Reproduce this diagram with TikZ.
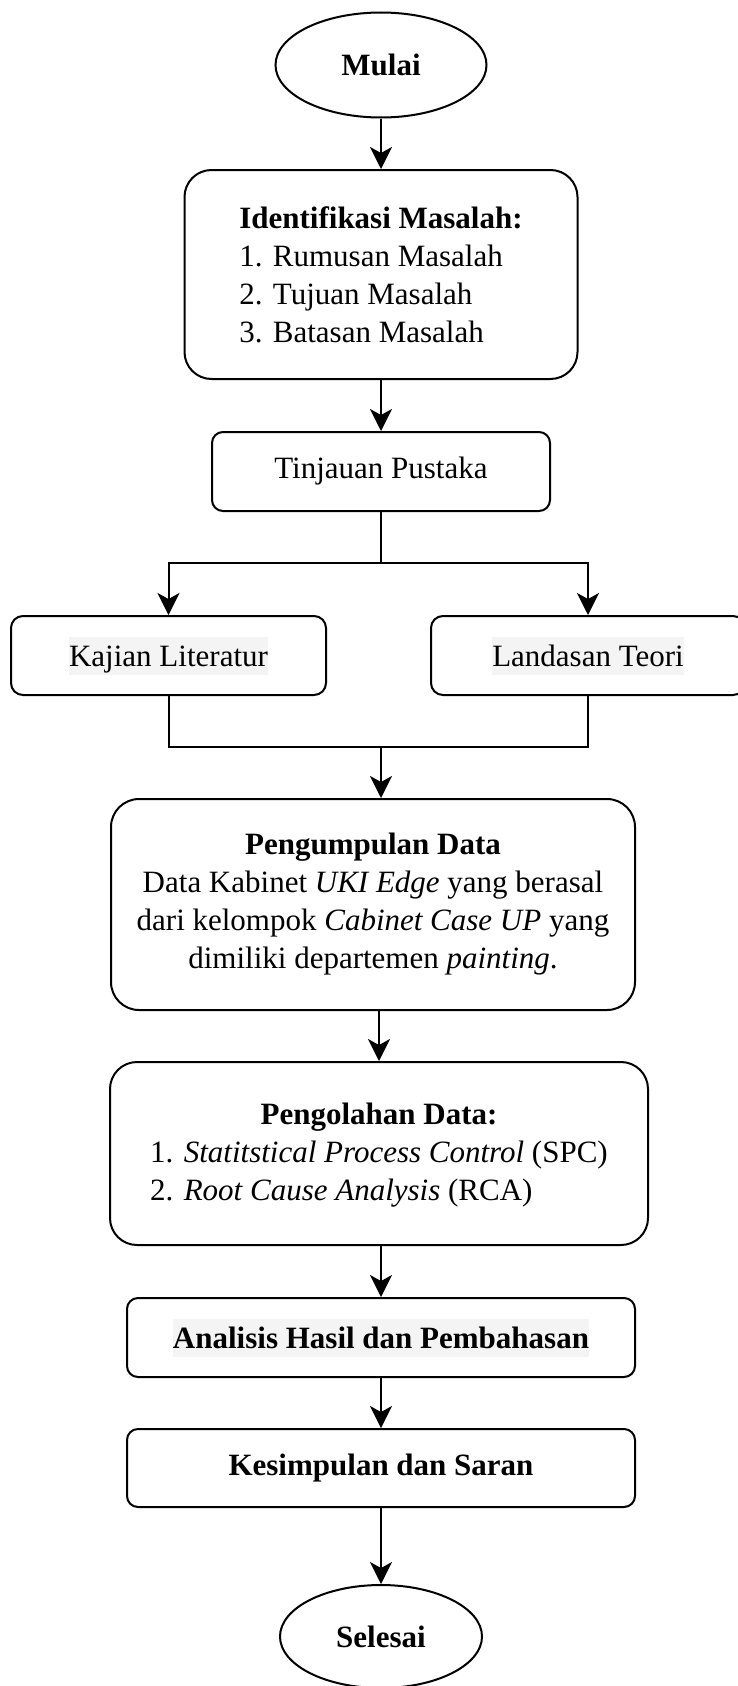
\documentclass[tikz,border=0pt]{standalone}
\usepackage{fontspec}
\setmainfont{Liberation Serif}
\usetikzlibrary{arrows.meta,shapes.geometric}
\definecolor{hl}{HTML}{F4F4F4}
\newcommand{\hlbox}[1]{{\setlength{\fboxsep}{0pt}\colorbox{hl}{\rule[-8pt]{0pt}{38pt}#1}}}
\begin{document}
\begin{tikzpicture}[x=1pt,y=-1pt,
  base/.style={line width=2pt, draw=black, inner sep=0pt, font=\fontsize{31}{38}\selectfont, text=black},
  rbox/.style={base, rectangle, rounded corners=#1},
  rbox/.default=12pt,
  oval/.style={base, ellipse},
  conn/.style={line width=2pt, draw=black},
  arr/.style={conn, -{Stealth[length=22pt,width=22pt,inset=6pt]}},
]
\useasboundingbox (0,0) rectangle (738,1686);
\fill[white] (0,0) rectangle (738,1686);
\clip (0,0) rectangle (738,1686);

\node[oval, minimum width=211pt, minimum height=105pt] (mulai) at (381,65) {\textbf{Mulai}};

\node[rbox=27pt, minimum width=393pt, minimum height=209pt, align=left] (ident) at (381,274.5)
  {\textbf{Identifikasi Masalah:}\\1. Rumusan Masalah\\2. Tujuan Masalah\\3. Batasan Masalah};

\node[rbox=11pt, minimum width=338pt, minimum height=79pt] (tinjau) at (381,471.5) {Tinjauan Pustaka};

\node[rbox=12pt, minimum width=315pt, minimum height=79pt] (kajian) at (168.5,655.5) {\hlbox{Kajian Literatur}};
\node[rbox=12pt, minimum width=314pt, minimum height=79pt] (landasan) at (588,655.5) {\hlbox{Landasan Teori}};

\node[rbox=28pt, minimum width=524pt, minimum height=211pt, align=center] (pengumpul) at (373,904.5)
  {\textbf{Pengumpulan Data}\\Data Kabinet \textit{UKI Edge} yang berasal\\dari kelompok \textit{Cabinet Case UP} yang\\dimiliki departemen \textit{painting}.};

\node[rbox=27pt, minimum width=538pt, minimum height=183pt, align=center] (pengolah) at (379,1153.5)
  {\rule{0pt}{30pt}\textbf{Pengolahan Data:}\\\begin{tabular}[t]{@{}l@{}}1. \textit{Statitstical Process Control} (SPC)\\2. \textit{Root Cause Analysis} (RCA)\end{tabular}};

\node[rbox=11pt, minimum width=508pt, minimum height=79pt] (analisis) at (381,1337.5) {\hlbox{\textbf{Analisis Hasil dan Pembahasan}}};

\node[rbox=11pt, minimum width=508pt, minimum height=78pt] (kesimp) at (381,1468) {\textbf{Kesimpulan dan Saran}};

\node[oval, minimum width=202pt, minimum height=103pt] (selesai) at (381,1636.5) {\textbf{Selesai}};

\coordinate (split) at (381,563);
\coordinate (merge) at (381,747);

\draw[arr] (mulai) -- (ident);
\draw[arr] (ident) -- (tinjau);
\draw[conn] (tinjau.south) -- (split);
\draw[arr] (split) -| (kajian.north);
\draw[arr] (split) -| (landasan.north);
\draw[conn] (kajian.south) |- (merge);
\draw[conn] (landasan.south) |- (merge);
\draw[arr] (merge) -- (merge |- pengumpul.north);
\draw[arr] (pengolah.north |- pengumpul.south) -- (pengolah.north);
\draw[arr] (analisis.north |- pengolah.south) -- (analisis.north);
\draw[arr] (analisis) -- (kesimp);
\draw[arr] (kesimp) -- (selesai);
\end{tikzpicture}
\end{document}
